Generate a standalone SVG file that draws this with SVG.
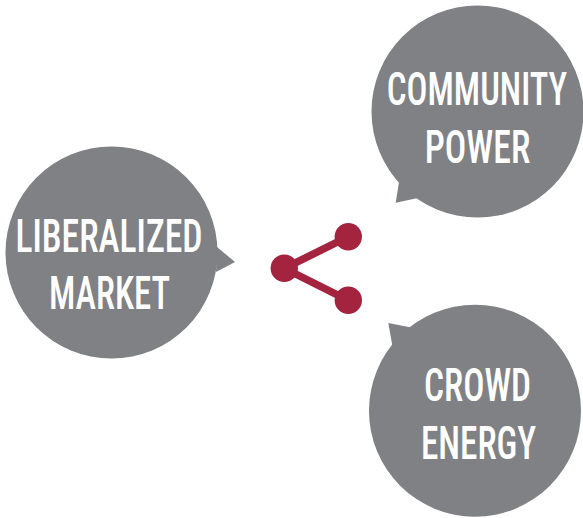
<svg xmlns="http://www.w3.org/2000/svg" width="583" height="518" viewBox="0 0 583 518">
<style>
.b{fill:#808184}
.t{font-family:"Roboto Condensed","Liberation Sans Narrow","Liberation Sans",sans-serif;font-size:47px;font-weight:500;fill:#fff;text-anchor:middle}
.c{stroke:#a4243f;stroke-width:7.500;fill:none}
.d{fill:#a4243f}
</style>
<g id="liberalized-market">
<circle class="b" cx="111.500" cy="252.500" r="106"/>
<path class="b" d="M217 247L235 262L216 272Z"/>
<text class="t" transform="translate(109 252) scale(.76 1)">LIBERALIZED</text>
<text class="t" transform="translate(109.500 309) scale(.74 1)">MARKET</text>
</g>
<g id="community-power">
<circle class="b" cx="477.500" cy="111.500" r="106"/>
<path class="b" d="M399 182L395.700 202.700L418 198L430 190Z"/>
<text class="t" transform="translate(477 105) scale(.74 1)">COMMUNITY</text>
<text class="t" transform="translate(477.500 163) scale(.76 1)">POWER</text>
</g>
<g id="crowd-energy">
<circle class="b" cx="475" cy="410.700" r="106"/>
<path class="b" d="M388.300 323L410 327.300L420 340L392.300 345.300Z"/>
<text class="t" transform="translate(477.500 401) scale(.75 1)">CROWD</text>
<text class="t" transform="translate(478.500 459) scale(.75 1)">ENERGY</text>
</g>
<g id="connectors">
<path class="c" d="M348.300 236.700L284.300 268.300L348.300 300.300"/>
<circle class="d" cx="348.300" cy="236.700" r="13.700"/>
<circle class="d" cx="284.300" cy="268.300" r="13.700"/>
<circle class="d" cx="348.300" cy="300.300" r="13.700"/>
</g>
</svg>
